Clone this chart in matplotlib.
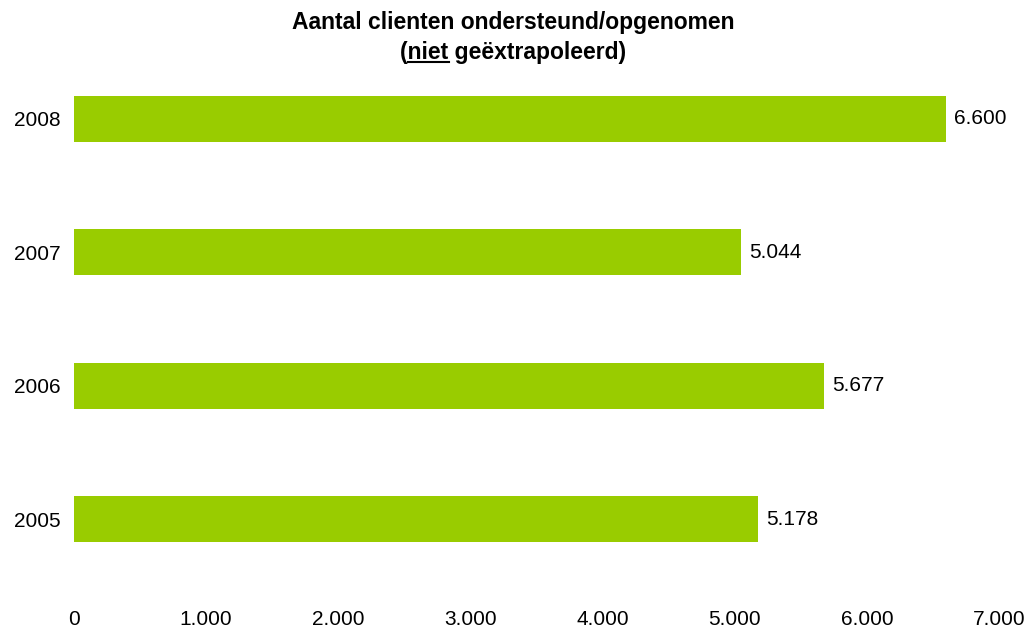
import numpy as np
import matplotlib.pyplot as plt
from matplotlib.lines import Line2D

plt.rcParams['font.family'] = ['Liberation Sans', 'DejaVu Sans']

jaren = ['2005', '2006', '2007', '2008']
aantal = [5178, 5677, 5044, 6600]
xticks = [0, 1000, 2000, 3000, 4000, 5000, 6000, 7000]

def fmt(v):
    # Dutch thousands separator
    return f"{v:,}".replace(",", ".")

fig = plt.figure(figsize=(10.27, 6.28), dpi=100)
ax = fig.add_axes([0.0721, 0.0669, 0.9006, 0.8503])

y = np.arange(len(jaren))
ax.barh(y, aantal, height=0.345, color='#99CC00')
for yi, v in zip(y, aantal):
    ax.annotate(fmt(v), (v, yi), xytext=(6, 0), textcoords='offset points',
                va='center', ha='left', fontsize=15)

ax.set_xlim(0, 7000)
ax.set_ylim(-0.5, 3.5)
ax.set_yticks(y)
ax.set_yticklabels(jaren, fontsize=15)
ax.set_xticks(xticks)
ax.set_xticklabels([fmt(t) for t in xticks], fontsize=15)
ax.tick_params(length=0)
ax.tick_params(axis='x', pad=17)
ax.tick_params(axis='y', pad=10)
for s in ax.spines.values():
    s.set_visible(False)

# titel in twee regels, "niet" onderstreept
fig.text(0.5, 1 - 23 / 628, 'Aantal clienten ondersteund/opgenomen',
         ha='center', va='center', fontsize=16.5, fontweight='bold')
regel2 = '(niet geëxtrapoleerd)'
t2 = fig.text(0.5, 1 - 52 / 628, regel2, ha='center', va='center',
              fontsize=16.5, fontweight='bold')

fig.canvas.draw()
r = fig.canvas.get_renderer()
bb = t2.get_window_extent(r)

def breedte(s):
    t = fig.text(0, 0, s, fontsize=16.5, fontweight='bold')
    w = t.get_window_extent(r).width
    t.remove()
    return w

x0 = bb.x0 + breedte('(')
x1 = bb.x0 + breedte('(niet')
yl = bb.y0 + 2
fig.add_artist(Line2D([x0 / fig.bbox.width, x1 / fig.bbox.width],
                      [yl / fig.bbox.height, yl / fig.bbox.height],
                      transform=fig.transFigure, color='black', lw=1.5))

fig.savefig('out.png', dpi=100)
